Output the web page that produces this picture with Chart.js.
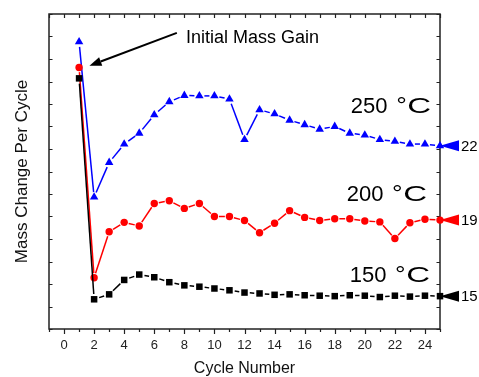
<!DOCTYPE html>
<html><head><meta charset="utf-8">
<script src="https://cdn.jsdelivr.net/npm/chart.js@4"></script>
<style>html,body{margin:0;padding:0;background:#fff}#wrap{width:479px;height:377px;position:relative}</style>
</head><body><div id="wrap"><canvas id="c" width="479" height="377"></canvas></div>
<script>
// ---- data ----
const cycles  = [1,2,3,4,5,6,7,8,9,10,11,12,13,14,15,16,17,18,19,20,21,22,23,24,25];
const mass150 = [5.57,0.66,0.77,1.09,1.21,1.15,1.04,0.97,0.94,0.90,0.86,0.81,0.79,0.76,0.77,0.75,0.74,0.73,0.75,0.74,0.71,0.74,0.72,0.74,0.73];
const mass200 = [5.81,1.14,2.16,2.37,2.29,2.79,2.85,2.68,2.79,2.50,2.50,2.41,2.14,2.35,2.63,2.48,2.41,2.45,2.45,2.40,2.38,2.01,2.36,2.44,2.42];
const mass250 = [6.38,2.93,3.70,4.11,4.35,4.76,5.05,5.19,5.18,5.18,5.11,4.21,4.87,4.78,4.64,4.54,4.44,4.50,4.35,4.31,4.21,4.17,4.11,4.11,4.07];
const seriesNames = ['150 °C','200 °C','250 °C'];
const endLabels   = ['15','19','22'];
const xTickLabels = [0,2,4,6,8,10,12,14,16,18,20,22,24];
const xTitle = 'Cycle Number';
const yTitle = 'Mass Change Per Cycle';
const noteText = 'Initial Mass Gain';

// ---- layout / style settings ----
const X_MIN = -1, X_MAX = 25, Y_MIN = 0, Y_MAX = 7;
const colors = ['#000000','#ff0000','#0000ff'];
const FONT = '"Liberation Sans", Arial, Helvetica, sans-serif';
// annotation placement in data units
const labelPos = [[19.0,1.05],[18.8,2.85],[19.07,4.79]];
const notePos = [8.11,6.35];
const arrowFrom = [7.5,6.58], arrowTo = [1.69,5.85];

const pts = arr => cycles.map((c,i)=>({x:c,y:arr[i]}));
function gapDash(g){
  return ctx => {
    const L = Math.hypot(ctx.p1.x-ctx.p0.x, ctx.p1.y-ctx.p0.y);
    const d = L - 2*g;
    return d > 0.5 ? [0, g, d, g] : [0, L+10];
  };
}

const deco = {
  id:'deco',
  beforeDatasetsDraw(chart){
    const {ctx, chartArea:a, scales:{x,y}} = chart;
    ctx.save();
    ctx.strokeStyle = '#222'; ctx.lineWidth = 1.5;
    ctx.strokeRect(a.left, a.top, a.right-a.left, a.bottom-a.top);
    ctx.lineWidth = 1.2;
    ctx.beginPath();
    for (let v = X_MIN; v <= X_MAX; v++){
      const px = Math.round(x.getPixelForValue(v))+0.5;
      const len = (v % 2 === 0) ? 5 : 3;
      ctx.moveTo(px, a.bottom); ctx.lineTo(px, a.bottom+len);
      ctx.moveTo(px, a.top); ctx.lineTo(px, a.top+4);
    }
    for (let v = Y_MIN; v <= Y_MAX; v += 0.5){
      const py = Math.round(y.getPixelForValue(v))+0.5;
      ctx.moveTo(a.left, py); ctx.lineTo(a.left+3.5, py);
      ctx.moveTo(a.right, py); ctx.lineTo(a.right-3.5, py);
    }
    ctx.stroke();
    ctx.restore();
  },
  afterDatasetsDraw(chart){
    const {ctx, chartArea:a, scales:{x,y}} = chart;
    ctx.save();
    // arrow
    const x0 = x.getPixelForValue(arrowFrom[0]), y0 = y.getPixelForValue(arrowFrom[1]);
    const x1 = x.getPixelForValue(arrowTo[0]), y1 = y.getPixelForValue(arrowTo[1]);
    const ang = Math.atan2(y1-y0, x1-x0);
    const hl = 12, hw = 4.5;
    const bx = x1 - Math.cos(ang)*hl, by = y1 - Math.sin(ang)*hl;
    ctx.strokeStyle = '#000'; ctx.fillStyle = '#000'; ctx.lineWidth = 2;
    ctx.beginPath(); ctx.moveTo(x0,y0); ctx.lineTo(bx,by); ctx.stroke();
    ctx.beginPath();
    ctx.moveTo(x1,y1);
    ctx.lineTo(bx - Math.sin(ang)*hw, by + Math.cos(ang)*hw);
    ctx.lineTo(bx + Math.sin(ang)*hw, by - Math.cos(ang)*hw);
    ctx.closePath(); ctx.fill();
    // note text
    ctx.font = '18px ' + FONT; ctx.textBaseline = 'alphabetic'; ctx.textAlign = 'left';
    ctx.fillText(noteText, x.getPixelForValue(notePos[0]), y.getPixelForValue(notePos[1]));
    // series labels
    seriesNames.forEach((s,i)=>{
      const lx = x.getPixelForValue(labelPos[i][0]), ly = y.getPixelForValue(labelPos[i][1]);
      ctx.font = '22px ' + FONT;
      const parts = s.split(' ');
      const num = parts[0] + ' ';
      const deg = parts[1].charAt(0), unit = parts[1].slice(1);
      ctx.fillText(num, lx, ly);
      let cx = lx + ctx.measureText(num).width + 2.5;
      ctx.save();
      ctx.translate(cx, ly); ctx.scale(1.2, 1); ctx.fillText(deg, 0, 0);
      ctx.restore();
      cx += ctx.measureText(deg).width * 1.2 + 0.5;
      ctx.save();
      ctx.translate(cx, ly); ctx.scale(1.5, 1); ctx.fillText(unit, 0, 0);
      ctx.restore();
    });
    // end markers
    const series = [mass150, mass200, mass250];
    const xr = x.getPixelForValue(cycles[cycles.length-1]);
    series.forEach((arr,i)=>{
      const py = y.getPixelForValue(arr[arr.length-1]);
      ctx.fillStyle = colors[i];
      ctx.beginPath();
      ctx.moveTo(xr, py); ctx.lineTo(xr+19, py-5.5); ctx.lineTo(xr+19, py+5.5);
      ctx.closePath(); ctx.fill();
      ctx.fillStyle = '#000';
      ctx.font = '15px ' + FONT; ctx.textBaseline = 'middle';
      ctx.fillText(endLabels[i], xr+21, py+1);
      ctx.textBaseline = 'alphabetic';
    });
    ctx.restore();
  }
};

new Chart(document.getElementById('c'), {
  type: 'scatter',
  data: { datasets: [
    { label: seriesNames[0], data: pts(mass150), showLine: true, borderColor: colors[0], borderWidth: 1.5,
      pointStyle: 'rect', pointRadius: 4.6, pointBorderWidth: 0, pointBackgroundColor: colors[0],
      segment: { borderDash: gapDash(5.3) }, clip: false },
    { label: seriesNames[1], data: pts(mass200), showLine: true, borderColor: colors[1], borderWidth: 1.5,
      pointStyle: 'circle', pointRadius: 3.7, pointBorderWidth: 0, pointBackgroundColor: colors[1],
      segment: { borderDash: gapDash(4.6) }, clip: false },
    { label: seriesNames[2], data: pts(mass250), showLine: true, borderColor: colors[2], borderWidth: 1.5,
      pointStyle: 'triangle', pointRadius: 4.9, pointBorderWidth: 0, pointBackgroundColor: colors[2],
      segment: { borderDash: gapDash(5) }, clip: false }
  ]},
  options: {
    responsive: false, animation: false, devicePixelRatio: 1,
    layout: { padding: { top: 14, right: 39, left: 0, bottom: 0 } },
    plugins: { legend: { display: false }, tooltip: { enabled: false } },
    scales: {
      x: { type: 'linear', min: X_MIN, max: X_MAX,
        grid: { display: false, drawTicks: false }, border: { display: false },
        ticks: { stepSize: 1, autoSkip: false, maxRotation: 0, padding: 9, color: '#222',
          font: { family: FONT, size: 13 },
          callback: v => xTickLabels.includes(v) ? String(v) : '' },
        title: { display: true, text: xTitle, color: '#111', font: { family: FONT, size: 16, lineHeight: 1 }, padding: { top: 0, bottom: 0 } },
        afterFit: s => { s.height = 48; } },
      y: { min: Y_MIN, max: Y_MAX,
        grid: { display: false, drawTicks: false }, border: { display: false },
        ticks: { display: false },
        title: { display: true, text: yTitle, color: '#111', font: { family: FONT, size: 17, lineHeight: 1 }, padding: { top: 14, bottom: 0 } },
        afterFit: s => { s.width = 49; } }
    }
  },
  plugins: [deco]
});
</script></body></html>
